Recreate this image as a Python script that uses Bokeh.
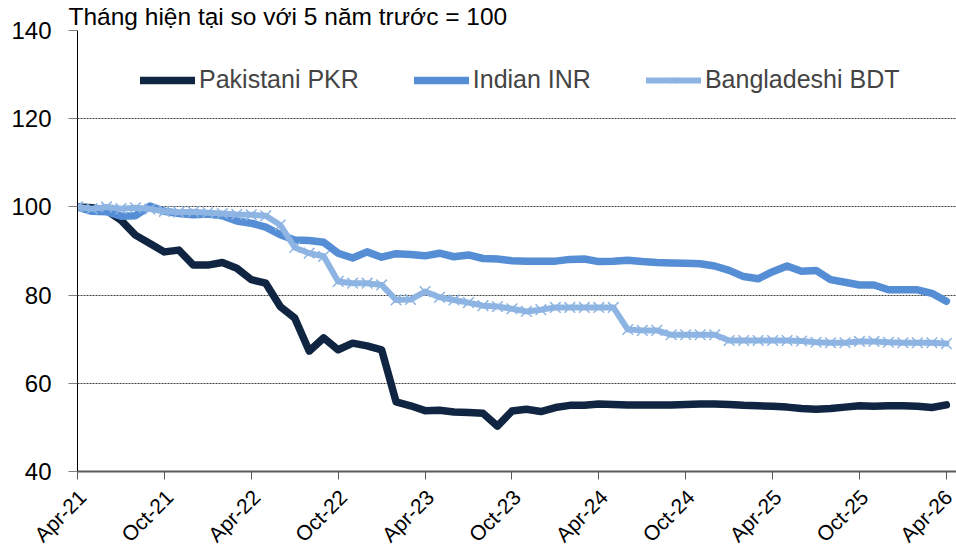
from bokeh.plotting import figure
from bokeh.models import (Range1d, FixedTicker, Legend, LegendItem,
                          LinearAxis)
from bokeh.embed import file_html
from bokeh.resources import INLINE

# ---- data -------------------------------------------------------------
months = list(range(61))  # Apr-21 .. Apr-26, monthly
tick_positions = [0, 6, 12, 18, 24, 30, 36, 42, 48, 54, 60]
tick_labels = ["Apr-21", "Oct-21", "Apr-22", "Oct-22", "Apr-23", "Oct-23",
               "Apr-24", "Oct-24", "Apr-25", "Oct-25", "Apr-26"]
y_ticks = [40, 60, 80, 100, 120, 140]

pkr = [100.0, 99.8, 99.2, 97.0, 93.6, 91.7, 89.8, 90.2, 86.8, 86.8,
       87.4, 86.1, 83.5, 82.7, 77.4, 74.8, 67.3, 70.3, 67.6, 69.1,
       68.5, 67.6, 55.8, 54.9, 53.8, 53.9, 53.5, 53.4, 53.2, 50.3,
       53.7, 54.1, 53.6, 54.5, 55.0, 55.0, 55.3, 55.2, 55.1, 55.1,
       55.1, 55.1, 55.2, 55.3, 55.3, 55.2, 55.0, 54.9, 54.8, 54.6,
       54.3, 54.1, 54.3, 54.6, 54.9, 54.8, 54.9, 54.9, 54.8, 54.5,
       55.1]
inr = [100.0, 99.0, 98.9, 97.9, 98.0, 100.2, 99.0, 98.5, 98.2, 98.4,
       98.0, 96.8, 96.3, 95.4, 93.7, 92.5, 92.4, 92.0, 89.5, 88.4,
       89.8, 88.6, 89.4, 89.2, 88.9, 89.5, 88.7, 89.1, 88.3, 88.2,
       87.8, 87.7, 87.7, 87.7, 88.1, 88.2, 87.6, 87.7, 87.9, 87.6,
       87.4, 87.3, 87.2, 87.1, 86.6, 85.6, 84.2, 83.7, 85.3, 86.6,
       85.4, 85.6, 83.5, 82.9, 82.3, 82.3, 81.2, 81.2, 81.2, 80.4,
       78.6]
bdt = [100.0, 99.6, 100.0, 99.6, 99.8, 99.5, 99.0, 98.8, 98.9, 98.7,
       98.5, 98.3, 98.2, 98.0, 95.9, 90.8, 89.5, 88.8, 83.1, 82.7,
       82.7, 82.3, 78.9, 79.0, 80.8, 79.5, 78.9, 78.3, 77.6, 77.4,
       76.9, 76.3, 76.7, 77.2, 77.2, 77.2, 77.2, 77.2, 72.2, 72.0,
       72.0, 71.0, 71.0, 71.0, 71.0, 69.7, 69.7, 69.7, 69.7, 69.7,
       69.6, 69.3, 69.2, 69.2, 69.5, 69.5, 69.3, 69.2, 69.2, 69.2,
       69.0]

series_names = ["Pakistani PKR", "Indian INR", "Bangladeshi BDT"]
title_text = "Tháng hiện tại so với 5 năm trước = 100"

# ---- style ------------------------------------------------------------
FONT = "Liberation Sans"
C_PKR = "#0F2541"
C_INR = "#558ED5"
C_BDT = "#8DB4E2"
LABEL_SHIFT = 0.35  # rotated date labels sit slightly right of their tick

p = figure(width=956, height=557, output_backend="svg", toolbar_location=None,
           x_range=Range1d(0, 60.7), y_range=Range1d(40, 140),
           min_border_left=77, min_border_top=28, min_border_right=0,
           min_border_bottom=86)
p.outline_line_color = None
p.background_fill_color = "white"
p.border_fill_color = "white"

p.title.text = title_text
p.title.align = "left"
p.title.offset = -9
p.title.standoff = 1
p.title.text_font = FONT
p.title.text_font_size = "24.5px"
p.title.text_font_style = "normal"
p.title.text_color = "black"

r_pkr = p.line(months, pkr, line_color=C_PKR, line_width=7.5,
               line_join="round", line_cap="round")
r_inr = p.line(months, inr, line_color=C_INR, line_width=7.5,
               line_join="round", line_cap="round")
r_bdt = p.line(months, bdt, line_color=C_BDT, line_width=6,
               line_join="round", line_cap="round")
r_bdt_m = p.scatter(months, bdt, marker="x", size=15, line_color=C_BDT,
                    line_width=1.5)

# x axis: line + tick marks only
p.xaxis.ticker = FixedTicker(ticks=tick_positions)
p.xaxis.major_label_overrides = {t: "" for t in tick_positions}
p.xaxis.major_label_text_font_size = "0px"
p.xaxis.major_label_standoff = 0
p.xaxis.axis_line_color = "#595959"
p.xaxis.axis_line_width = 2
p.xaxis.major_tick_line_color = "#595959"
p.xaxis.major_tick_out = 8
p.xaxis.major_tick_in = 0
p.xaxis.minor_tick_line_color = None

# x axis labels (rotated)
label_pos = [t + LABEL_SHIFT for t in tick_positions]
lab_axis = LinearAxis(ticker=FixedTicker(ticks=label_pos),
                      major_label_overrides={lp: l for lp, l in zip(label_pos, tick_labels)},
                      major_label_orientation=0.785398,
                      major_label_text_font=FONT,
                      major_label_text_font_size="21px",
                      major_label_text_color="black",
                      major_label_standoff=14,
                      major_tick_out=0, major_tick_in=0,
                      axis_line_color=None, major_tick_line_color=None,
                      minor_tick_line_color=None)
p.add_layout(lab_axis, "below")

p.yaxis.ticker = FixedTicker(ticks=y_ticks)
p.yaxis.major_label_text_font = FONT
p.yaxis.major_label_text_font_size = "24px"
p.yaxis.major_label_text_color = "black"
p.yaxis.axis_line_color = "black"
p.yaxis.axis_line_width = 1
p.yaxis.major_tick_line_color = "#7F7F7F"
p.yaxis.major_tick_out = 9
p.yaxis.major_tick_in = 0
p.yaxis.minor_tick_line_color = None
p.yaxis.major_label_standoff = 17

p.xgrid.grid_line_color = None
p.ygrid.grid_line_color = "#404040"
p.ygrid.grid_line_dash = "2 1"
p.ygrid.grid_line_width = 1

legend = Legend(items=[
    LegendItem(label=series_names[0], renderers=[r_pkr]),
    LegendItem(label=series_names[1], renderers=[r_inr]),
    LegendItem(label=series_names[2], renderers=[r_bdt, r_bdt_m]),
], orientation="horizontal", location=(63, 377),
    glyph_width=55, glyph_height=20, label_standoff=4, spacing=55,
    padding=0, margin=0, border_line_color=None,
    background_fill_alpha=0, label_text_font=FONT,
    label_text_font_size="25px", label_text_baseline="middle",
    label_height=20)
p.add_layout(legend)

open("out.html", "w").write(file_html(p, INLINE))
